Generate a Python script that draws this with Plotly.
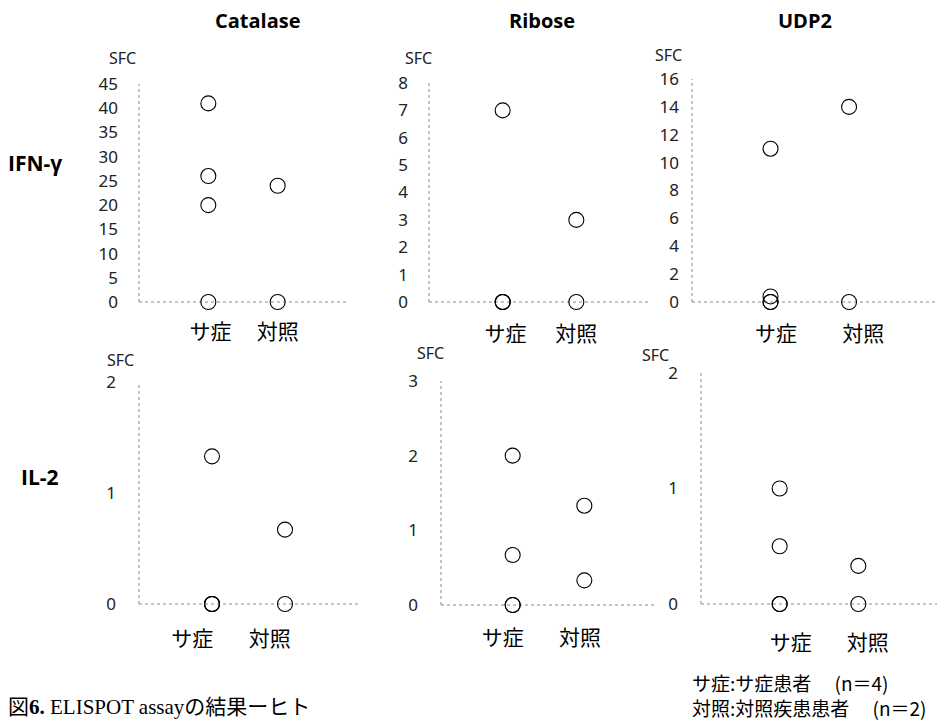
import plotly.graph_objects as go

# ---------------- data ----------------
categories = ["サ症", "対照"]
antigens = ["Catalase", "Ribose", "UDP2"]
cytokines = ["IFN-γ", "IL-2"]

ifn_catalase_sa = [41, 26, 20, 0]
ifn_catalase_ctrl = [24, 0]
ifn_ribose_sa = [7, 0, 0, 0]
ifn_ribose_ctrl = [3, 0]
ifn_udp2_sa = [11, 0.4, 0, 0]
ifn_udp2_ctrl = [14, 0]

il2_catalase_sa = [1.33, 0, 0, 0]
il2_catalase_ctrl = [0.67, 0]
il2_ribose_sa = [2, 0.67, 0, 0]
il2_ribose_ctrl = [1.33, 0.33]
il2_udp2_sa = [1, 0.5, 0, 0]
il2_udp2_ctrl = [0.33, 0]

y_max = [45, 8, 16, 2, 3, 2]
y_step = [5, 1, 2, 1, 1, 1]

legend_lines = ["サ症:サ症患者　 (n＝4)", "対照:対照疾患患者　 (n＝2)"]
caption = "図<b>6.</b> ELISPOT assayの結果ーヒト"

# ---------------- layout geometry (pixels) ----------------
W, H = 937, 721
# (x_left, x_right, y_top, y_bottom, x_range_max, label tick positions, x-label standoff, y-label standoff)
panels = [
    (139, 347, 84, 302, 3.0, [1.03, 2.0], 15, 20),
    (429, 650, 83, 302, 3.0, [1.04, 2.0], 17, 20),
    (692, 937, 79, 302, 3.12, [1.07, 2.18], 17, 12),
    (139, 358, 382, 604, 3.0, [0.73, 1.79], 20, 22),
    (441, 656, 381, 605, 3.0, [0.86, 1.94], 18, 22),
    (701, 937, 373, 604, 3.0, [1.14, 2.12], 24, 22),
]
sfc_pos = [(122, 58), (418, 58), (668, 55), (120, 360), (430, 353), (655, 355)]

series = [
    (ifn_catalase_sa, ifn_catalase_ctrl),
    (ifn_ribose_sa, ifn_ribose_ctrl),
    (ifn_udp2_sa, ifn_udp2_ctrl),
    (il2_catalase_sa, il2_catalase_ctrl),
    (il2_ribose_sa, il2_ribose_ctrl),
    (il2_udp2_sa, il2_udp2_ctrl),
]

NUM_FONT = "Noto Sans, Noto Sans CJK JP"
JP_FONT = "Noto Sans CJK JP"

fig = go.Figure()
shapes = []
annotations = []

for i, ((xl, xr, yt, yb, xmax, tpos, xstand, ystand), (sa, ctrl)) in enumerate(zip(panels, series)):
    n = i + 1
    xa = "x" if n == 1 else f"x{n}"
    ya = "y" if n == 1 else f"y{n}"
    xs = [1] * len(sa) + [2] * len(ctrl)
    ys = list(sa) + list(ctrl)
    fig.add_trace(go.Scatter(
        x=xs, y=ys, xaxis=xa, yaxis=ya, mode="markers", cliponaxis=False,
        marker=dict(symbol="circle-open", size=15, color="black", line=dict(width=1.1, color="black")),
        showlegend=False, hoverinfo="y",
    ))
    xkey = "xaxis" if n == 1 else f"xaxis{n}"
    ykey = "yaxis" if n == 1 else f"yaxis{n}"
    fig.update_layout({
        xkey: dict(
            domain=[xl / W, xr / W], range=[0, xmax], anchor=ya, automargin=False,
            showgrid=False, zeroline=False, showline=False,
            tickmode="array", tickvals=tpos, ticktext=categories,
            ticks="", ticklabelstandoff=xstand,
            tickfont=dict(family=JP_FONT, size=21, color="black"),
            fixedrange=True,
        ),
        ykey: dict(
            domain=[1 - yb / H, 1 - yt / H], range=[0, y_max[i]], anchor=xa, automargin=False,
            showgrid=False, zeroline=False, showline=False,
            tick0=0, dtick=y_step[i], ticks="", ticklabelstandoff=ystand,
            tickfont=dict(family=NUM_FONT, size=17, color="#222"),
            fixedrange=True,
        ),
    })
    # axis lines (dotted grey)
    shapes.append(dict(type="line", xref=f"{xa} domain", yref=f"{ya} domain",
                       x0=0, x1=0, y0=0, y1=1, line=dict(color="#8a8a8a", width=1, dash="dot"), layer="below"))
    shapes.append(dict(type="line", xref=f"{xa} domain", yref=f"{ya} domain",
                       x0=0, x1=1, y0=0, y1=0, line=dict(color="#8a8a8a", width=1, dash="dot"), layer="below"))
    sx, sy = sfc_pos[i]
    annotations.append(dict(text="SFC", xref="paper", yref="paper", x=sx / W, y=1 - sy / H,
                            showarrow=False, xanchor="center", yanchor="middle",
                            font=dict(family=NUM_FONT, size=16, color="#222")))

# column titles
for name, cx in zip(antigens, [258, 542, 805]):
    annotations.append(dict(text=f"<b>{name}</b>", xref="paper", yref="paper", x=cx / W, y=1 - 21 / H,
                            showarrow=False, xanchor="center", yanchor="middle",
                            font=dict(family="Open Sans", size=20, color="black")))
# row labels
for name, cx, cy in zip(cytokines, [35, 40], [163, 477]):
    annotations.append(dict(text=f"<b>{name}</b>", xref="paper", yref="paper", x=cx / W, y=1 - cy / H,
                            showarrow=False, xanchor="center", yanchor="middle",
                            font=dict(family="Open Sans", size=21, color="black")))
# legend notes
annotations.append(dict(text="<br>".join(legend_lines), xref="paper", yref="paper", x=690 / W, y=1 - 695 / H,
                        showarrow=False, xanchor="left", yanchor="middle", align="left",
                        font=dict(family=JP_FONT, size=19, color="black")))
# caption
annotations.append(dict(text=caption, xref="paper", yref="paper", x=6 / W, y=1 - 707 / H,
                        showarrow=False, xanchor="left", yanchor="middle",
                        font=dict(family="Liberation Serif, Noto Sans CJK JP", size=21, color="black")))

fig.update_layout(
    width=W, height=H, margin=dict(l=0, r=0, t=0, b=0, autoexpand=False),
    paper_bgcolor="white", plot_bgcolor="white",
    shapes=shapes, annotations=annotations, showlegend=False,
)

fig.write_html("out.html", config={"displayModeBar": False},
               post_script="document.body.style.margin='0px';")
